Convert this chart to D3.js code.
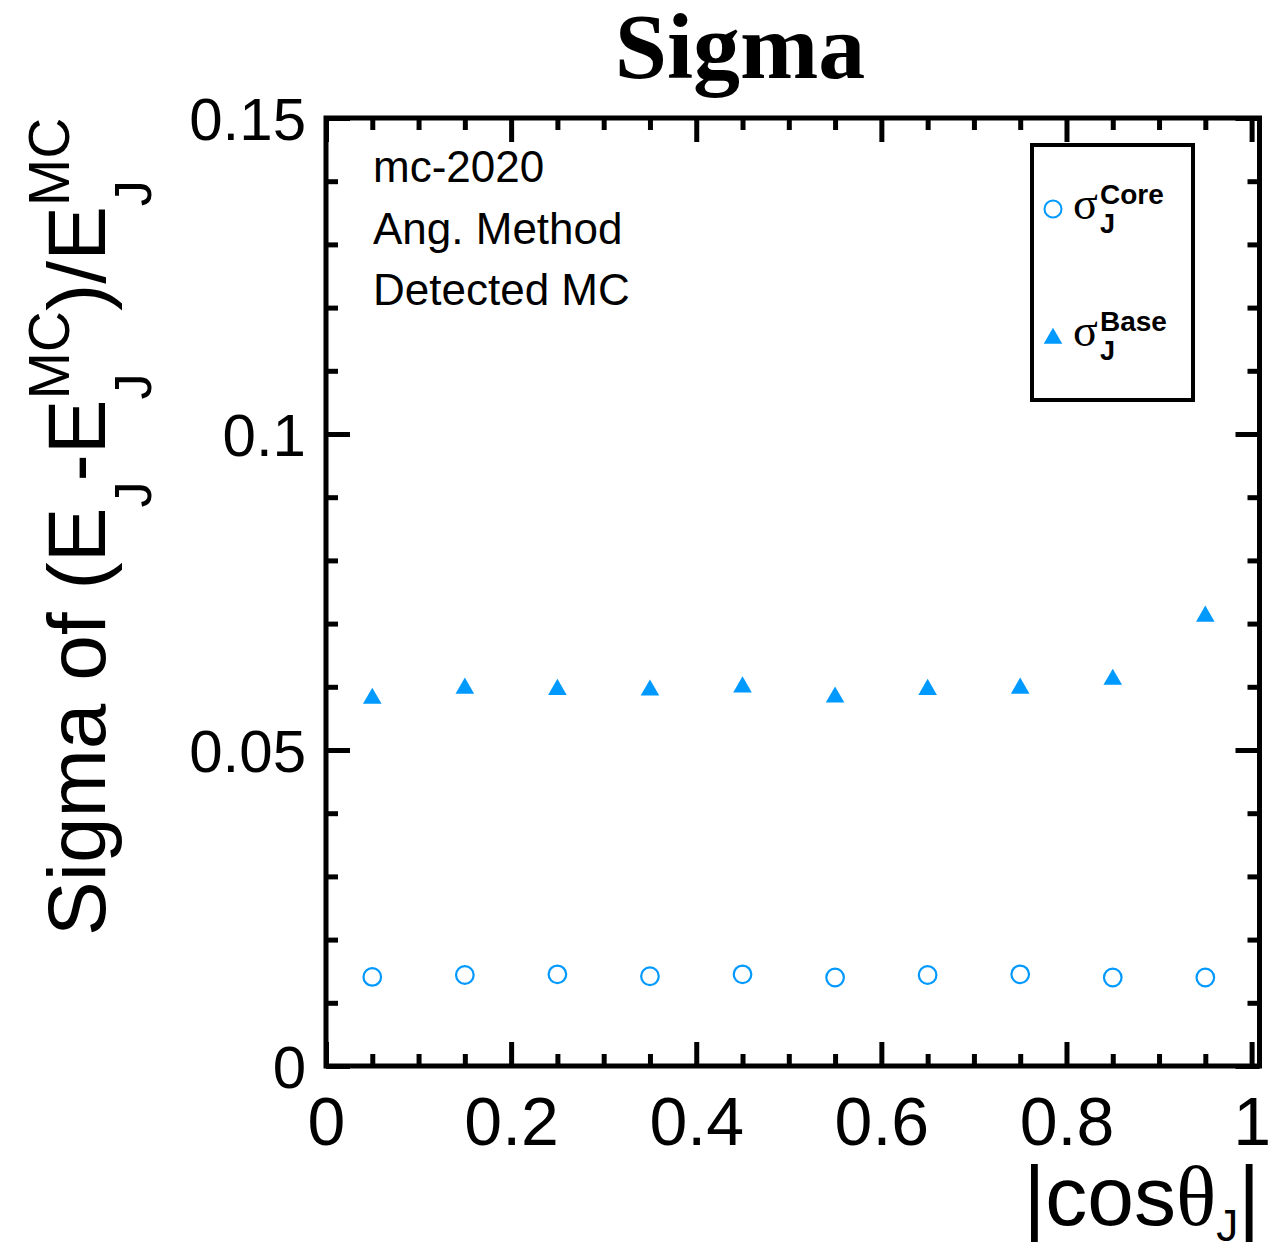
<!DOCTYPE html>
<html>
<head>
<meta charset="utf-8">
<script src="https://cdn.jsdelivr.net/npm/d3@7"></script>
<style>
  html, body { margin: 0; padding: 0; background: #fff; }
  svg { display: block; }
</style>
</head>
<body>
<svg id="chart" width="1283" height="1251"></svg>
<script>
// Jet energy resolution vs |cos theta_J|
const binCenters = [0.05, 0.15, 0.25, 0.35, 0.45, 0.55, 0.65, 0.75, 0.85, 0.95];
const sigmaCore  = [0.0141, 0.0144, 0.0145, 0.0142, 0.0145, 0.0140, 0.0144, 0.0145, 0.0140, 0.0140];
const sigmaBase  = [0.0584, 0.0600, 0.0598, 0.0597, 0.0602, 0.0586, 0.0598, 0.0600, 0.0614, 0.0714];

const xMajorTicks = [0, 0.2, 0.4, 0.6, 0.8, 1];
const xTickLabels = ["0", "0.2", "0.4", "0.6", "0.8", "1"];
const yMajorTicks = [0, 0.05, 0.1, 0.15];
const yTickLabels = ["0", "0.05", "0.1", "0.15"];
const infoLines   = ["mc-2020", "Ang. Method", "Detected MC"];

const SANS = "'Liberation Sans', Arial, Helvetica, sans-serif";
const SERIF = "'Liberation Serif', 'Times New Roman', serif";
const BLUE = "#0099ff";

const svg = d3.select("#chart");

const frame = { left: 326, right: 1259.5, top: 118, bottom: 1066 };
const x = d3.scaleLinear().domain([0, 1]).range([326, 1251.6]);
const y = d3.scaleLinear().domain([0, 0.15]).range([1066, 118]);

const xMinor = d3.range(0, 1.0001, 0.05).map(v => +v.toFixed(2)).filter(v => !xMajorTicks.includes(v));
const yMinor = d3.range(0, 0.1501, 0.01).map(v => +v.toFixed(2)).filter(v => !yMajorTicks.includes(v));

const MAJ = 24, MIN = 12, LW = 5;

function styleAxis(g) {
  g.select(".domain").remove();
  g.selectAll(".tick line").attr("stroke", "#000").attr("stroke-width", LW);
}

// bottom axis (ticks pointing up) with labels
const xAxisB = d3.axisBottom(x).tickValues(xMajorTicks).tickSize(-MAJ).tickSizeOuter(0)
  .tickFormat((d, i) => xTickLabels[i]).tickPadding(0);
const gxb = svg.append("g").attr("transform", `translate(0,${frame.bottom})`).call(xAxisB);
styleAxis(gxb);
gxb.selectAll(".tick text")
  .attr("y", 79).attr("dy", null)
  .attr("font-family", SANS).attr("font-size", 68).attr("fill", "#000");
svg.append("g").attr("transform", `translate(0,${frame.bottom})`)
  .call(d3.axisBottom(x).tickValues(xMinor).tickSize(-MIN).tickSizeOuter(0).tickFormat(""))
  .call(styleAxis);

// top axis (ticks pointing down)
svg.append("g").attr("transform", `translate(0,${frame.top})`)
  .call(d3.axisTop(x).tickValues(xMajorTicks).tickSize(-MAJ).tickSizeOuter(0).tickFormat(""))
  .call(styleAxis);
svg.append("g").attr("transform", `translate(0,${frame.top})`)
  .call(d3.axisTop(x).tickValues(xMinor).tickSize(-MIN).tickSizeOuter(0).tickFormat(""))
  .call(styleAxis);

// left axis (ticks pointing right) with labels
const gyl = svg.append("g").attr("transform", `translate(${frame.left},0)`)
  .call(d3.axisLeft(y).tickValues(yMajorTicks).tickSize(-MAJ).tickSizeOuter(0)
    .tickFormat((d, i) => yTickLabels[i]).tickPadding(0));
styleAxis(gyl);
gyl.selectAll(".tick text")
  .attr("x", -20).attr("dy", "0.36em")
  .attr("font-family", SANS).attr("font-size", 60).attr("fill", "#000");
svg.append("g").attr("transform", `translate(${frame.left},0)`)
  .call(d3.axisLeft(y).tickValues(yMinor).tickSize(-MIN).tickSizeOuter(0).tickFormat(""))
  .call(styleAxis);

// right axis (ticks pointing left)
svg.append("g").attr("transform", `translate(${frame.right},0)`)
  .call(d3.axisRight(y).tickValues(yMajorTicks).tickSize(-MAJ).tickSizeOuter(0).tickFormat(""))
  .call(styleAxis);
svg.append("g").attr("transform", `translate(${frame.right},0)`)
  .call(d3.axisRight(y).tickValues(yMinor).tickSize(-MIN).tickSizeOuter(0).tickFormat(""))
  .call(styleAxis);

// frame
svg.append("rect")
  .attr("x", frame.left).attr("y", frame.top)
  .attr("width", frame.right - frame.left).attr("height", frame.bottom - frame.top)
  .attr("fill", "none").attr("stroke", "#000").attr("stroke-width", LW);

// markers
const tri = d3.symbol().type(d3.symbolTriangle).size(150);
svg.append("g").selectAll("path")
  .data(binCenters.map((c, i) => [c, sigmaBase[i]]))
  .join("path")
  .attr("d", tri)
  .attr("transform", d => `translate(${x(d[0])},${y(d[1]) + 1.5})`)
  .attr("fill", BLUE);

svg.append("g").selectAll("circle")
  .data(binCenters.map((c, i) => [c, sigmaCore[i]]))
  .join("circle")
  .attr("cx", d => x(d[0])).attr("cy", d => y(d[1]))
  .attr("r", 8.8).attr("fill", "none").attr("stroke", BLUE).attr("stroke-width", 2.2);

// title
svg.append("text")
  .attr("x", 740).attr("y", 78).attr("text-anchor", "middle")
  .attr("font-family", SERIF).attr("font-weight", "bold").attr("font-size", 94)
  .text("Sigma");

// info text
svg.append("g").selectAll("text").data(infoLines).join("text")
  .attr("x", 373).attr("y", (d, i) => 182 + i * 61.5)
  .attr("font-family", SANS).attr("font-size", 44)
  .text(d => d);

// rich text layout: runs placed one after another; "stack" runs share one x position
function richText(g, runs) {
  let cx = 0;
  runs.forEach(run => {
    const parts = run.stack || [run];
    let w = 0;
    parts.forEach(p => {
      const t = g.append("text")
        .attr("x", cx).attr("y", p.dy || 0)
        .attr("font-family", p.font || SANS)
        .attr("font-size", p.size)
        .attr("font-weight", p.weight || "normal")
        .text(p.t);
      w = Math.max(w, t.node().getComputedTextLength());
    });
    cx += w;
  });
  return cx;
}

// y axis title, rotated
const yt = svg.append("g").attr("transform", "translate(105,936) rotate(-90)");
richText(yt, [
  { t: "Sigma of (E", size: 82 },
  { stack: [{ t: "J", size: 52, dy: 46 }] },
  { t: "-E", size: 82 },
  { stack: [{ t: "MC", size: 57, dy: -36 }, { t: "J", size: 52, dy: 46 }] },
  { t: ")/E", size: 82 },
  { stack: [{ t: "MC", size: 57, dy: -36 }, { t: "J", size: 52, dy: 46 }] }
]);

// x axis title, right aligned
const xt = svg.append("g");
const xw = richText(xt, [
  { t: "|cos", size: 84 },
  { t: "θ", size: 84, font: SERIF },
  { t: "J", size: 44, dy: 16 },
  { t: "|", size: 84 }
]);
xt.attr("transform", `translate(${1260 - xw},1225)`);

// legend
svg.append("rect")
  .attr("x", 1032).attr("y", 145).attr("width", 161).attr("height", 255)
  .attr("fill", "#fff").attr("stroke", "#000").attr("stroke-width", 4);

svg.append("circle").attr("cx", 1053).attr("cy", 209).attr("r", 8.5)
  .attr("fill", "none").attr("stroke", BLUE).attr("stroke-width", 2);
svg.append("path").attr("d", tri).attr("transform", "translate(1053,338.5)").attr("fill", BLUE);

const legendEntries = [
  { sup: "Core", base: 219 },
  { sup: "Base", base: 346 }
];
legendEntries.forEach(e => {
  svg.append("text").attr("x", 1073).attr("y", e.base)
    .attr("font-family", SERIF).attr("font-size", 46).text("σ");
  svg.append("text").attr("x", 1100).attr("y", e.base - 15)
    .attr("font-family", SANS).attr("font-weight", "bold").attr("font-size", 28).text(e.sup);
  svg.append("text").attr("x", 1100).attr("y", e.base + 14)
    .attr("font-family", SANS).attr("font-weight", "bold").attr("font-size", 27).text("J");
});
</script>
</body>
</html>
